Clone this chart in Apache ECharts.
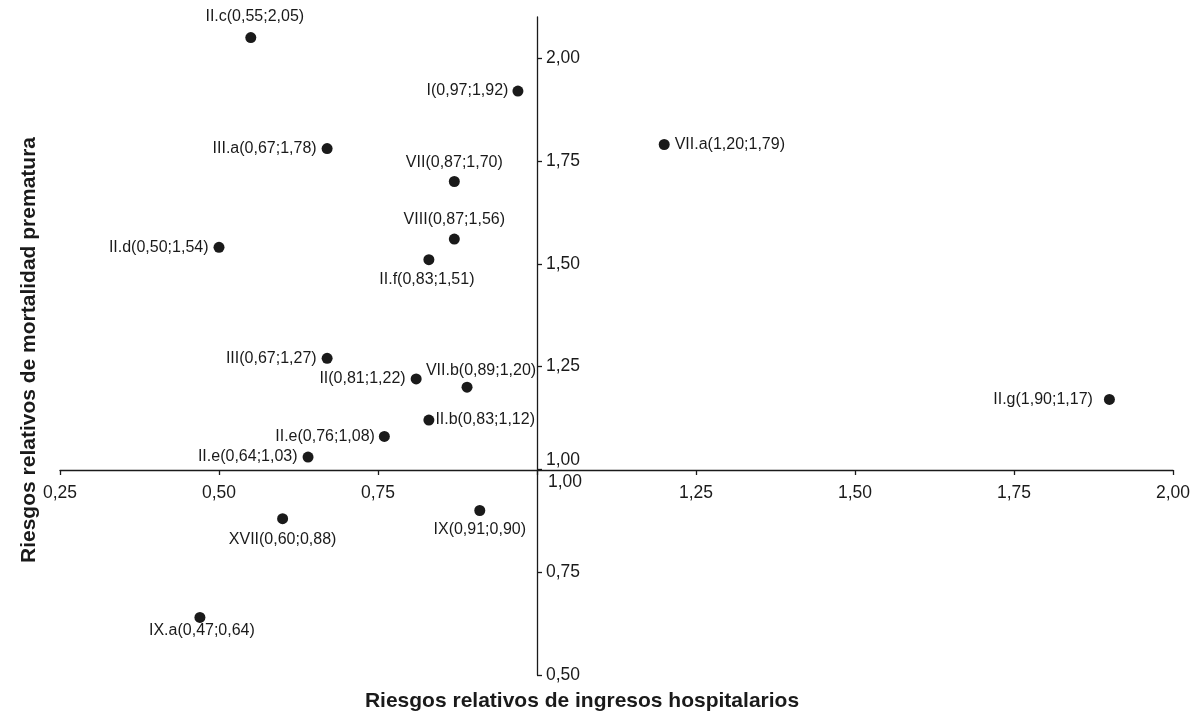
<!DOCTYPE html>
<html>
<head>
<meta charset="utf-8">
<script src="https://cdn.jsdelivr.net/npm/echarts@6/dist/echarts.min.js"></script>
<style>html,body{margin:0;padding:0;background:#fff;}#c{width:1199px;height:712px;}</style>
</head>
<body>
<div id="c"></div>
<script>
// ---- data ----
const groups = ['II.c','I','III.a','VII','VII.a','VIII','II.d','II.f','III','II','VII.b','II.g','II.b','II.e','II.e','XVII','IX','IX.a'];
const hospRR = [0.55,0.97,0.67,0.87,1.20,0.87,0.50,0.83,0.67,0.81,0.89,1.90,0.83,0.76,0.64,0.60,0.91,0.47];
const mortRR = [2.05,1.92,1.78,1.70,1.79,1.56,1.54,1.51,1.27,1.22,1.20,1.17,1.12,1.08,1.03,0.88,0.90,0.64];
const xTicks = [0.25,0.50,0.75,1.00,1.25,1.50,1.75,2.00];
const yTicks = [0.50,0.75,1.00,1.25,1.50,1.75,2.00];
const xTitle = 'Riesgos relativos de ingresos hospitalarios';
const yTitle = 'Riesgos relativos de mortalidad prematura';

// label placement (style only)
const labelPlace = [
  ['top',7,[4,0]],['left',4,[0,0]],['left',5,[0,0]],['top',5,[0,0]],['right',5,[0,0]],
  ['top',6,[0,0]],['left',5,[0,0]],['bottom',6,[-2,0]],['left',5,[0,0]],['left',5,[0,0]],
  ['top',3,[14,0]],['left',11,[0,0]],['right',1,[0,0]],['left',4,[0,0]],['left',5,[0,0]],
  ['bottom',7,[0,0]],['bottom',6,[0,0]],['bottom',0,[2,0]]
];

const FF = '"Liberation Sans", Arial, Helvetica, sans-serif';
const INK = '#1a1a1a';
const fmt = v => v.toFixed(2).replace('.', ',');
const isOne = v => Math.abs(v - 1) < 1e-9;

const data = groups.map((g, i) => ({
  value: [hospRR[i], mortRR[i]],
  name: g,
  label: {
    show: true,
    position: labelPlace[i][0],
    distance: labelPlace[i][1],
    offset: labelPlace[i][2],
    formatter: g + '(' + fmt(hospRR[i]) + ';' + fmt(mortRR[i]) + ')'
  }
}));

const chart = echarts.init(document.getElementById('c'), null, {renderer: 'canvas'});
chart.setOption({
  animation: false,
  backgroundColor: '#fff',
  grid: {left: 60, right: 26, top: 17, bottom: 37, containLabel: false, outerBoundsMode: 'none'},
  xAxis: {
    type: 'value', min: 0.25, max: 2.0, interval: 0.25,
    position: 'bottom', offset: -205,
    axisLine: {onZero: false, lineStyle: {color: INK, width: 1.3}},
    axisTick: {show: true, inside: false, length: 5, customValues: xTicks, lineStyle: {color: INK, width: 1.3}},
    splitLine: {show: false},
    axisLabel: {
      margin: 3, customValues: xTicks,
      formatter: v => isOne(v) ? '{one|' + fmt(v) + '}' : '{n|' + fmt(v) + '}',
      rich: {
        n: {fontSize: 17.5, fontFamily: FF, color: INK, padding: [11, 0, 0, 0]},
        one: {fontSize: 17.5, fontFamily: FF, color: INK, padding: [0, 0, 0, 56]}
      }
    }
  },
  yAxis: {
    type: 'value', min: 0.5, max: 2.1,
    position: 'left', offset: -477,
    axisLine: {onZero: false, lineStyle: {color: INK, width: 1.3}},
    axisTick: {show: true, inside: true, length: 5, customValues: yTicks, lineStyle: {color: INK, width: 1.3}},
    splitLine: {show: false},
    axisLabel: {
      inside: true, margin: 9, customValues: yTicks,
      formatter: v => isOne(v) ? '{up|' + fmt(v) + '}' : '{n|' + fmt(v) + '}',
      rich: {
        n: {fontSize: 17.5, fontFamily: FF, color: INK},
        up: {fontSize: 17.5, fontFamily: FF, color: INK, padding: [0, 0, 18, 0]}
      }
    }
  },
  series: [{
    type: 'scatter',
    symbol: 'circle',
    symbolSize: 11,
    itemStyle: {color: INK, opacity: 1},
    label: {color: INK, fontSize: 16, fontFamily: FF, opacity: 1},
    emphasis: {disabled: true},
    data: data
  }],
  graphic: [
    {type: 'text', x: 582, y: 701, style: {text: xTitle, fontSize: 21, fontWeight: 'bold', fontFamily: FF, fill: INK, align: 'center', verticalAlign: 'middle'}},
    {type: 'text', x: 29, y: 350, rotation: Math.PI / 2, style: {text: yTitle, fontSize: 21, fontWeight: 'bold', fontFamily: FF, fill: INK, align: 'center', verticalAlign: 'middle'}}
  ]
});
</script>
</body>
</html>
